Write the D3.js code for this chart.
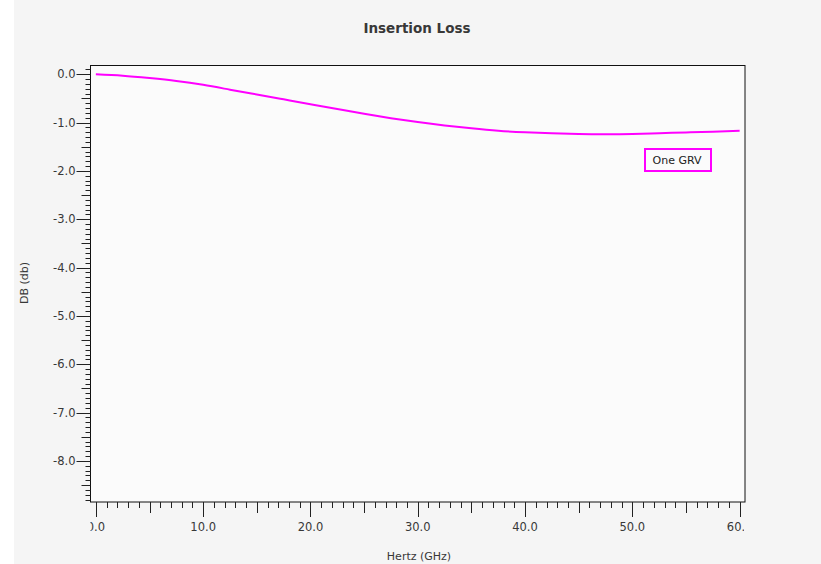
<!DOCTYPE html>
<html>
<head>
<meta charset="utf-8">
<script src="https://cdn.jsdelivr.net/npm/d3@7"></script>
<style>
  html, body { margin: 0; padding: 0; background: #ffffff; }
  svg { display: block; font-family: "DejaVu Sans", sans-serif; }
</style>
</head>
<body>
<svg id="chart" width="821" height="564"></svg>
<script>
// Insertion loss of a single GRV, in dB against frequency in GHz
const freqGHz = [0, 2.5, 5, 7.5, 10, 12.5, 15, 17.5, 20, 22.5, 25, 27.5, 30,
                 32.5, 35, 37.5, 40, 42.5, 45, 47.5, 50, 52.5, 55, 57.5, 60];
const lossDb  = [0.0, -0.03, -0.08, -0.14, -0.22, -0.32, -0.42, -0.52, -0.62, -0.72, -0.82, -0.91, -0.99,
                 -1.06, -1.12, -1.17, -1.20, -1.22, -1.235, -1.24, -1.235, -1.22, -1.205, -1.19, -1.17];
const seriesName = "One GRV";
const xTickValues = [0, 10, 20, 30, 40, 50, 60];
const yTickValues = [0, -1, -2, -3, -4, -5, -6, -7, -8];
const titleText = "Insertion Loss";
const xTitle = "Hertz (GHz)";
const yTitle = "DB (db)";

const W = 821, H = 564;
const plot = { left: 90.5, right: 745, top: 65.5, bottom: 502 };
const lineColor = "#ff00ff";
const textColor = "#383838";
// one decimal, plain hyphen for negatives
const fmt = d => d.toFixed(1);

const svg = d3.select("#chart");

// panel background
svg.append("rect").attr("x", 14).attr("y", 0).attr("width", W - 14).attr("height", H)
  .attr("fill", "#f5f5f5");

const x = d3.scaleLinear().domain([-0.5, 60.5]).range([plot.left, plot.right]);
const y = d3.scaleLinear().domain([0.18, -8.85]).range([plot.top, plot.bottom]);

// plot area
svg.append("rect")
  .attr("x", plot.left).attr("y", plot.top)
  .attr("width", plot.right - plot.left).attr("height", plot.bottom - plot.top)
  .attr("fill", "#fbfbfb").attr("stroke", "#111").attr("stroke-width", 1);

// x axis: minor every 1, mid every 5, major every 10
const xMinor = d3.range(0, 61, 1);
const xAxisG = svg.append("g").attr("transform", `translate(0,${plot.bottom})`);
xAxisG.selectAll("line").data(xMinor).join("line")
  .attr("x1", d => Math.round(x(d)) + 0.5).attr("x2", d => Math.round(x(d)) + 0.5)
  .attr("y1", 0)
  .attr("y2", d => d % 10 === 0 ? 15 : (d % 5 === 0 ? 11 : 6))
  .attr("stroke", "#222").attr("stroke-width", 1);

svg.append("clipPath").attr("id", "xlabClip")
  .append("rect").attr("x", plot.left).attr("y", plot.bottom)
  .attr("width", plot.right - plot.left - 1).attr("height", 40);

svg.append("g").attr("clip-path", "url(#xlabClip)")
  .selectAll("text").data(xTickValues).join("text")
  .attr("x", d => x(d)).attr("y", 531)
  .attr("text-anchor", "middle")
  .attr("font-size", 11.5).attr("fill", textColor)
  .text(fmt);

// y axis: minor every 0.1, mid every 0.5, major every 1
const yMinor = d3.range(1, -89, -1).map(v => v / 10);
svg.append("g").selectAll("line").data(yMinor).join("line")
  .attr("y1", d => Math.round(y(d)) + 0.5).attr("y2", d => Math.round(y(d)) + 0.5)
  .attr("x1", plot.left)
  .attr("x2", d => {
    const t = Math.round(d * 10);
    return plot.left - (t % 10 === 0 ? 14 : (t % 5 === 0 ? 9 : 5));
  })
  .attr("stroke", "#222").attr("stroke-width", 1);

svg.append("g").selectAll("text").data(yTickValues).join("text")
  .attr("x", 75.5).attr("y", d => y(d) + 4)
  .attr("text-anchor", "end")
  .attr("font-size", 11.5).attr("fill", textColor)
  .text(fmt);

// series line
const line = d3.line().x((d, i) => x(freqGHz[i])).y(d => y(d)).curve(d3.curveNatural);
svg.append("path").datum(lossDb)
  .attr("d", line)
  .attr("fill", "none").attr("stroke", lineColor).attr("stroke-width", 2);

// legend
svg.append("rect")
  .attr("x", 645).attr("y", 149).attr("width", 66).attr("height", 22)
  .attr("fill", "none").attr("stroke", lineColor).attr("stroke-width", 2);
svg.append("text").attr("x", 652.5).attr("y", 163.5)
  .attr("font-size", 11).attr("fill", "#222").text(seriesName);

// titles
svg.append("text").attr("x", 417).attr("y", 32.5)
  .attr("text-anchor", "middle").attr("font-size", 13.5).attr("font-weight", "bold")
  .attr("fill", textColor).text(titleText);
svg.append("text").attr("x", 419).attr("y", 559.5)
  .attr("text-anchor", "middle").attr("font-size", 11)
  .attr("fill", textColor).text(xTitle);
svg.append("text")
  .attr("transform", "translate(28,283) rotate(-90)")
  .attr("text-anchor", "middle").attr("font-size", 11)
  .attr("fill", textColor).text(yTitle);
</script>
</body>
</html>
